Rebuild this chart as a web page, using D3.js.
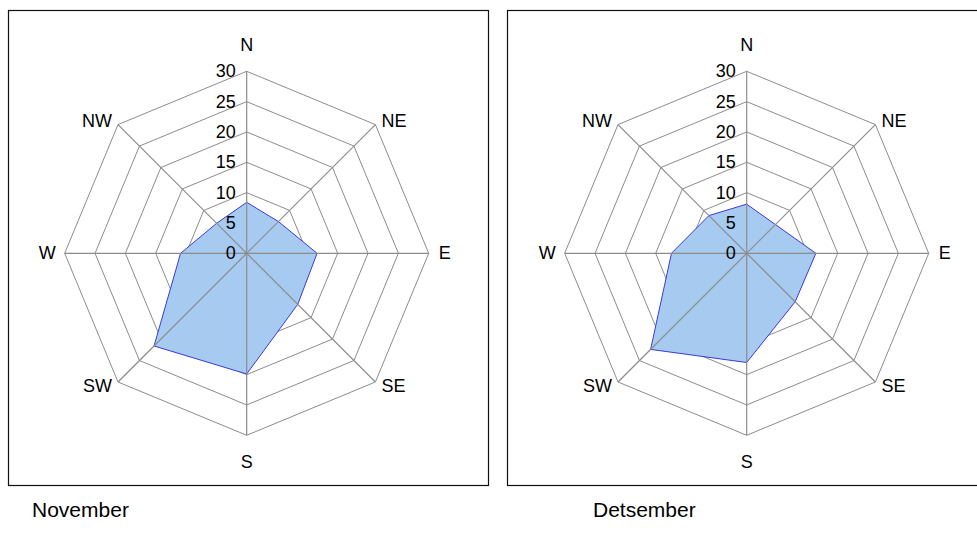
<!DOCTYPE html>
<html>
<head>
<meta charset="utf-8">
<script src="https://cdn.jsdelivr.net/npm/d3@7/dist/d3.min.js"></script>
<style>
  html, body { margin: 0; padding: 0; background: #fff; }
  svg { display: block; }
  text { font-family: "Liberation Sans", Arial, sans-serif; fill: #000; }
</style>
</head>
<body>
<svg id="chart" width="977" height="542"></svg>
<script>
// ---- data ----
const directions = ["N", "NE", "E", "SE", "S", "SW", "W", "NW"];
const tickValues = [0, 5, 10, 15, 20, 25, 30];
const novemberValues = [8.4, 7.4, 11.6, 11.9, 19.9, 21.6, 10.9, 7.0];
const detsemberValues = [8.1, 6.7, 11.4, 11.3, 18.0, 22.4, 12.4, 8.8];
const panelTitles = ["November", "Detsember"];

// ---- layout ----
const svg = d3.select("#chart");
const panels = [
  { values: novemberValues, title: panelTitles[0], box: [8.5, 10.5, 480, 475], cx: 246.7, cy: 253.3, tx: 32 },
  { values: detsemberValues, title: panelTitles[1], box: [507.5, 10.5, 480, 475], cx: 746.7, cy: 253.3, tx: 593 }
];

const rScale = d3.scaleLinear().domain([0, 30]).range([0, 182]);
const aScale = d3.scaleLinear().domain([0, directions.length]).range([0, 2 * Math.PI]);

const labelOffsets = {
  N: { dx: 0, dy: -26, anchor: "middle" },
  NE: { dx: 6, dy: -4, anchor: "start" },
  E: { dx: 10, dy: 0, anchor: "start" },
  SE: { dx: 6, dy: 4, anchor: "start" },
  S: { dx: 0, dy: 27, anchor: "middle" },
  SW: { dx: -6, dy: 4, anchor: "end" },
  W: { dx: -9, dy: 0, anchor: "end" },
  NW: { dx: -6, dy: -4, anchor: "end" }
};

function pt(i, v) {
  const a = aScale(i);
  return [Math.sin(a) * rScale(v), -Math.cos(a) * rScale(v)];
}

panels.forEach(p => {
  // frame
  svg.append("rect")
    .attr("x", p.box[0]).attr("y", p.box[1])
    .attr("width", p.box[2]).attr("height", p.box[3])
    .attr("fill", "none").attr("stroke", "#111").attr("stroke-width", 1.2);

  const g = svg.append("g").attr("transform", `translate(${p.cx},${p.cy})`);

  // rings
  const ringLine = d3.lineRadial()
    .angle((d, i) => aScale(i))
    .radius(d => rScale(d))
    .curve(d3.curveLinearClosed);

  tickValues.filter(t => t > 0).forEach(t => {
    g.append("path")
      .attr("d", ringLine(directions.map(() => t)))
      .attr("fill", "none").attr("stroke", "#8c8c8c").attr("stroke-width", 1);
  });

  // data area
  g.append("path")
    .attr("d", ringLine(p.values))
    .attr("fill", "#a6caf0")
    .attr("stroke", "#3a3ad8")
    .attr("stroke-width", 1);

  // spokes (on top)
  directions.forEach((d, i) => {
    const [x, y] = pt(i, 30);
    g.append("line")
      .attr("x1", 0).attr("y1", 0).attr("x2", x).attr("y2", y)
      .attr("stroke", "#8c8c8c").attr("stroke-width", 1.2);
  });

  // tick labels
  tickValues.forEach(t => {
    g.append("text")
      .attr("x", -11).attr("y", -rScale(t))
      .attr("text-anchor", "end")
      .attr("dominant-baseline", "central")
      .attr("font-size", 18)
      .text(t);
  });

  // direction labels
  directions.forEach((d, i) => {
    const [x, y] = pt(i, 30);
    const o = labelOffsets[d];
    g.append("text")
      .attr("x", x + o.dx).attr("y", y + o.dy)
      .attr("text-anchor", o.anchor)
      .attr("dominant-baseline", "central")
      .attr("font-size", 18)
      .text(d);
  });

  // title below panel
  svg.append("text")
    .attr("x", p.tx).attr("y", 517)
    .attr("font-size", 21)
    .text(p.title);
});
</script>
</body>
</html>
